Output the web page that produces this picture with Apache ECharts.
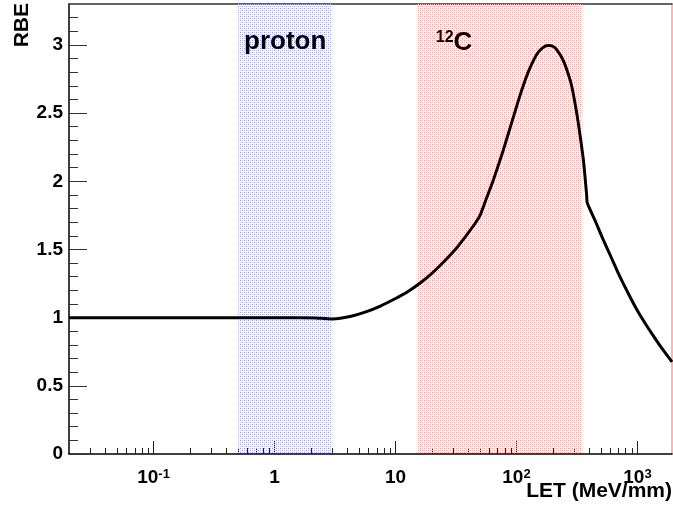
<!DOCTYPE html>
<html><head><meta charset="utf-8">
<script src="https://cdn.jsdelivr.net/npm/echarts@6/dist/echarts.min.js"></script>
<style>html,body{margin:0;padding:0;background:#fff}#c{width:673px;height:510px}</style>
</head><body><div id="c"></div>
<script>
// ---- data ----
const LET = [0.02, 0.1, 0.5, 1, 1.6, 2.2, 2.6, 3.0, 3.5, 4.3, 5.6, 7.5, 10, 12.6, 15.8, 20, 25.1, 31.6, 39.8, 45, 50, 56.2, 64.4, 77.9, 94.2, 107, 125, 147, 165, 183, 200, 215, 244, 277, 295, 324, 357, 368, 380, 385, 450, 521, 600, 716, 850, 984, 1150, 1349, 1600, 1930];
const RBE = [1.0, 1.0, 1.0, 1.0, 1.0, 0.998, 0.993, 0.99, 0.995, 1.01, 1.04, 1.085, 1.14, 1.19, 1.25, 1.325, 1.41, 1.505, 1.62, 1.685, 1.75, 1.87, 2.01, 2.23, 2.47, 2.63, 2.80, 2.93, 2.98, 2.995, 2.99, 2.965, 2.885, 2.745, 2.64, 2.43, 2.16, 2.04, 1.90, 1.84, 1.705, 1.572, 1.452, 1.30, 1.168, 1.062, 0.962, 0.868, 0.772, 0.675];
const xRange = [0.02, 1930];
const yRange = [0, 3.3];
const xMajorTicks = [0.1, 1, 10, 100, 1000];
const xMajorLabels = ['{b|10}{s|-1}', '{b|1}', '{b|10}', '{b|10}{s|2}', '{b|10}{s|3}'];
const yMajorTicks = [0, 0.5, 1, 1.5, 2, 2.5, 3];
const yMinorTicks = [0.1,0.2,0.3,0.4,0.6,0.7,0.8,0.9,1.1,1.2,1.3,1.4,1.6,1.7,1.8,1.9,2.1,2.2,2.3,2.4,2.6,2.7,2.8,2.9,3.1,3.2];
const bandNames = ['proton', '{s|12}{c|C}'];
const bandFrom = [0.5, 15];
const bandTo = [3, 350];

// ---- helpers ----
const L = Math.log10;
const xMinorTicks = [];
for (let n = -2; n <= 3; n++) for (let k = 2; k <= 9; k++) {
  const v = k * Math.pow(10, n);
  if (v > xRange[0] && v < xRange[1]) xMinorTicks.push(v);
}
function pattern(c1, c2) {
  const cv = document.createElement('canvas');
  cv.width = 4; cv.height = 4;
  const ctx = cv.getContext('2d');
  ctx.fillStyle = c1; ctx.fillRect(0, 0, 1, 1); ctx.fillRect(2, 2, 1, 1);
  ctx.fillStyle = c2; ctx.fillRect(0, 2, 1, 1); ctx.fillRect(2, 0, 1, 1);
  return { image: cv, repeat: 'repeat' };
}
const FONT = '"Liberation Sans", Arial, sans-serif';
const bandStyles = [
  { color: pattern('#9898ec', '#c6c6f5') },
  { color: pattern('#ff9696', '#ffc6c6') }
];
const bandLabels = [
  { position: 'insideTop', distance: 25 },
  { position: 'insideTopLeft', distance: 19, offset: [0, 7] }
];

const chart = echarts.init(document.getElementById('c'), null, { renderer: 'canvas' });
const xBase = { type: 'value', min: L(xRange[0]), max: L(xRange[1]), splitLine: { show: false } };
const yBase = { type: 'value', min: yRange[0], max: yRange[1], splitLine: { show: false } };

chart.setOption({
  animation: false,
  backgroundColor: '#fff',
  grid: { left: 69, right: 1, top: 4, bottom: 56, containLabel: false },
  xAxis: [
    Object.assign({}, xBase, {
      position: 'bottom',
      axisLine: { show: true, onZero: false, lineStyle: { color: '#000', width: 1.5 } },
      axisTick: { show: true, inside: true, length: 13, customValues: xMajorTicks.map(L), lineStyle: { color: '#222' } },
      axisLabel: {
        show: true, customValues: xMajorTicks.map(L), margin: 14,
        formatter: function (v) {
          let best = 0;
          xMajorTicks.forEach((t, i) => { if (Math.abs(L(t) - v) < Math.abs(L(xMajorTicks[best]) - v)) best = i; });
          return xMajorLabels[best];
        },
        rich: {
          b: { fontSize: 19, fontWeight: 'bold', fontFamily: FONT, color: '#000', lineHeight: 19 },
          s: { fontSize: 13, fontWeight: 'bold', fontFamily: FONT, color: '#000', lineHeight: 8, verticalAlign: 'top' }
        }
      }
    }),
    Object.assign({}, xBase, {
      position: 'bottom',
      axisLine: { show: false, onZero: false },
      axisTick: { show: true, inside: true, length: 6, customValues: xMinorTicks.map(L), lineStyle: { color: '#222' } },
      axisLabel: { show: false }
    }),
    Object.assign({}, xBase, {
      position: 'top',
      axisLine: { show: true, onZero: false, lineStyle: { color: '#333', width: 1.5 } },
      axisTick: { show: false },
      axisLabel: { show: false }
    })
  ],
  yAxis: [
    Object.assign({}, yBase, {
      position: 'left',
      axisLine: { show: true, onZero: false, lineStyle: { color: '#000', width: 1.5 } },
      axisTick: { show: true, inside: true, length: 18, customValues: yMajorTicks, lineStyle: { color: '#333' } },
      axisLabel: { show: true, customValues: yMajorTicks, margin: 6, fontSize: 19, fontWeight: 'bold', fontFamily: FONT, color: '#000' }
    }),
    Object.assign({}, yBase, {
      position: 'left',
      axisLine: { show: false, onZero: false },
      axisTick: { show: true, inside: true, length: 9, customValues: yMinorTicks, lineStyle: { color: '#333' } },
      axisLabel: { show: false }
    }),
    Object.assign({}, yBase, {
      position: 'right',
      axisLine: { show: true, onZero: false, lineStyle: { color: '#ff9a9a', width: 1.5 } },
      axisTick: { show: false },
      axisLabel: { show: false }
    })
  ],
  series: [
    {
      type: 'line', data: [], z: 1, silent: true,
      markArea: {
        silent: true,
        data: bandNames.map((n, i) => [
          {
            xAxis: L(bandFrom[i]),
            itemStyle: bandStyles[i],
            label: Object.assign({
              show: true, formatter: n, fontSize: 26, fontWeight: 'bold', fontFamily: FONT, color: '#000',
              rich: {
                s: { fontSize: 16, fontWeight: 'bold', fontFamily: FONT, color: '#000', lineHeight: 14, verticalAlign: 'top' },
                c: { fontSize: 26, fontWeight: 'bold', fontFamily: FONT, color: '#000', lineHeight: 26 }
              }
            }, bandLabels[i])
          },
          { xAxis: L(bandTo[i]) }
        ])
      }
    },
    {
      type: 'line', z: 5,
      data: LET.map((x, i) => [L(x), RBE[i]]),
      showSymbol: false, symbol: 'none',
      smooth: 0.2,
      lineStyle: { color: '#000', width: 3 }
    }
  ],
  graphic: [
    { type: 'text', x: 22, y: 3, rotation: Math.PI / 2, z: 10,
      style: { text: 'RBE', fill: '#000', font: 'bold 21px ' + FONT, textAlign: 'right', textVerticalAlign: 'middle' } },
    { type: 'text', x: 672, y: 491, z: 10,
      style: { text: 'LET (MeV/mm)', fill: '#000', font: 'bold 21px ' + FONT, textAlign: 'right', textVerticalAlign: 'middle' } }
  ]
});
</script>
</body></html>
